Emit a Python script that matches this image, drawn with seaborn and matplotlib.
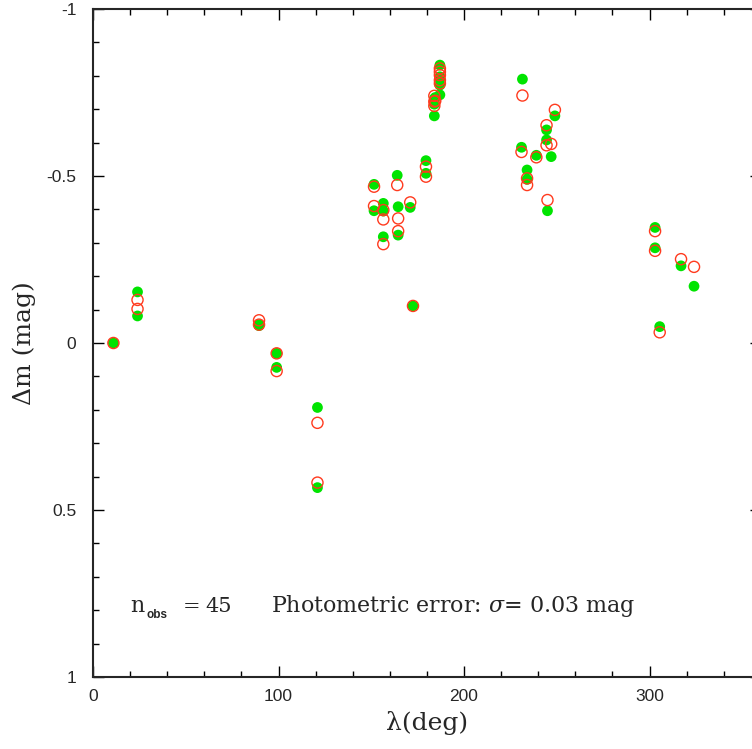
import matplotlib
matplotlib.use("Agg")
import matplotlib.pyplot as plt
from matplotlib.ticker import MultipleLocator
import pandas as pd
import seaborn as sns

# ecliptic longitude of each observation (deg)
lam = [11.0, 24.0, 24.0, 89.5, 89.5, 99.0, 99.0, 121.0, 121.0,
       151.5, 151.5, 156.5, 156.5, 156.5, 164.0, 164.5, 164.5,
       171.0, 172.5, 179.5, 179.5, 184.0, 184.0, 184.0, 184.5,
       187.0, 187.0, 187.0, 187.0, 187.0,
       231.5, 231.0, 234.0, 234.0, 239.0, 244.5, 244.5, 245.0,
       247.0, 249.0, 303.0, 303.0, 305.5, 317.0, 324.0]

# observed magnitude difference (green filled)
dm_obs = [0.000, -0.153, -0.081, -0.055, -0.052, 0.031, 0.073, 0.193, 0.433,
          -0.475, -0.396, -0.418, -0.395, -0.318, -0.502, -0.408, -0.323,
          -0.406, -0.111, -0.546, -0.508, -0.731, -0.715, -0.680, -0.735,
          -0.832, -0.797, -0.772, -0.790, -0.743,
          -0.790, -0.586, -0.518, -0.490, -0.562, -0.638, -0.608, -0.396,
          -0.558, -0.680, -0.346, -0.285, -0.049, -0.231, -0.170]

# model magnitude difference (red open)
dm_model = [0.000, -0.129, -0.102, -0.068, -0.055, 0.031, 0.084, 0.239, 0.418,
            -0.468, -0.410, -0.398, -0.370, -0.296, -0.473, -0.373, -0.335,
            -0.421, -0.111, -0.528, -0.498, -0.740, -0.723, -0.710, -0.725,
            -0.822, -0.802, -0.787, -0.777, -0.812,
            -0.741, -0.572, -0.493, -0.473, -0.556, -0.652, -0.592, -0.428,
            -0.596, -0.698, -0.335, -0.276, -0.032, -0.251, -0.228]

x_ticks = [0, 100, 200, 300]
y_ticks = [-1, -0.5, 0, 0.5, 1]
y_tick_labels = ["-1", "-0.5", "0", "0.5", "1"]

sns.set_style("ticks")
plt.rcParams["font.family"] = ["Liberation Sans", "DejaVu Sans"]
plt.rcParams["axes.unicode_minus"] = False
plt.rcParams["mathtext.fontset"] = "custom"
plt.rcParams["mathtext.rm"] = "DejaVu Serif"
plt.rcParams["mathtext.it"] = "DejaVu Serif:italic"

df = pd.DataFrame({"lam": lam, "obs": dm_obs, "model": dm_model})

fig = plt.figure(figsize=(7.52, 7.49), dpi=100)
ax = fig.add_axes([93 / 752, 72 / 749, 667.8 / 752, 668 / 749])

sns.scatterplot(data=df, x="lam", y="obs", ax=ax, color="#00e400",
                s=60, edgecolor="none", zorder=3)
sns.scatterplot(data=df, x="lam", y="model", ax=ax, marker="o",
                facecolors="none", edgecolor="#ff3a1e", s=64,
                linewidth=1.0, zorder=4)

ax.set_xlim(0, 360)
ax.set_ylim(1, -1)
ax.set_xticks(x_ticks)
ax.set_yticks(y_ticks, labels=y_tick_labels)
ax.xaxis.set_minor_locator(MultipleLocator(20))
ax.yaxis.set_minor_locator(MultipleLocator(0.1))
ax.tick_params(which="both", direction="in", top=True, right=True,
               width=1.0, color="black", labelsize=12.5)
ax.tick_params(which="major", length=8)
ax.tick_params(which="minor", length=4.3)
ax.tick_params(axis="x", pad=8.5)
ax.tick_params(axis="y", pad=12)
for sp in ax.spines.values():
    sp.set_linewidth(1.5)

serif = ["DejaVu Serif"]
ax.set_xlabel("λ(deg)", fontsize=18, family=serif, labelpad=5)
ax.set_ylabel("Δm (mag)", fontsize=18, family=serif)
ax.yaxis.set_label_coords(-0.103, 0.5)
ax.yaxis.label.set_va("center")

# annotation along the bottom of the panel
ax.text(0.0554, 0.097, "n", transform=ax.transAxes, fontsize=16,
        family=serif, ha="left", va="baseline")
ax.text(0.0795, 0.089, "obs", transform=ax.transAxes, fontsize=8.5,
        fontweight="bold", ha="left", va="baseline")
ax.text(0.147, 0.097, "=", transform=ax.transAxes, fontsize=15,
        family=serif, ha="center", va="baseline")
ax.text(0.169, 0.097, "45", transform=ax.transAxes, fontsize=15,
        family=serif, ha="left", va="baseline")
ax.text(0.266, 0.097, r"Photometric error: $\it{\sigma}$= 0.03 mag",
        transform=ax.transAxes, fontsize=15.9, family=serif,
        ha="left", va="baseline")

fig.savefig("out.png", dpi=100)
